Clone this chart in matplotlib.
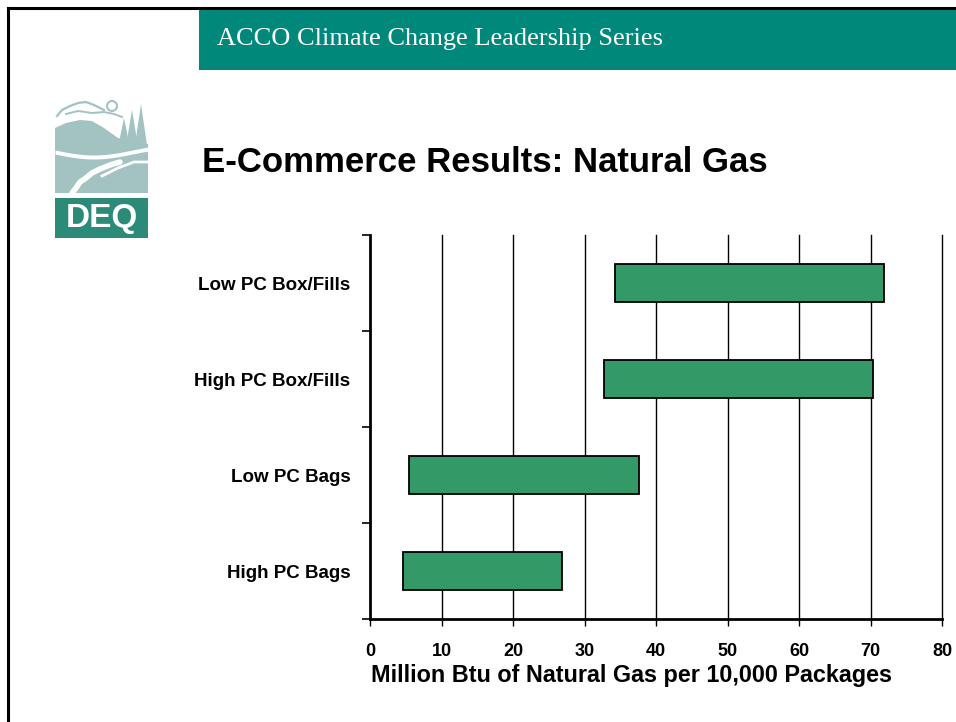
import matplotlib
matplotlib.use("Agg")
import matplotlib.pyplot as plt
from matplotlib.patches import Rectangle, Polygon, Circle
from matplotlib.lines import Line2D
import numpy as np

# data (bottom to top, as drawn)
categories = ['High PC Bags', 'Low PC Bags', 'High PC Box/Fills', 'Low PC Box/Fills']
range_low = [4.6, 5.5, 32.7, 34.2]
range_high = [26.8, 37.6, 70.3, 71.9]
x_ticks = [0, 10, 20, 30, 40, 50, 60, 70, 80]

W, H = 956, 722
fig = plt.figure(figsize=(W / 100, H / 100), dpi=100)
fig.patch.set_facecolor('white')

def fx(px):
    return px / W

def fy(py):
    return 1 - py / H

# slide frame (only top and left edges show)
fig.add_artist(Line2D([fx(8), 1], [fy(8), fy(8)], color='black', lw=2.2))
fig.add_artist(Line2D([fx(8), fx(8)], [fy(8), 0], color='black', lw=2.2))

# header band
fig.add_artist(Rectangle((fx(199), fy(70)), 1 - fx(199), fy(9) - fy(70),
                         transform=fig.transFigure, facecolor='#00897b', edgecolor='none'))
fig.text(fx(217), fy(39), 'ACCO Climate Change Leadership Series', color='white',
         fontsize=19, family='Liberation Serif', va='center', ha='left')

# slide title
fig.text(fx(202), fy(163), 'E-Commerce Results: Natural Gas', fontsize=25,
         family='Liberation Sans', fontweight='bold', va='center', ha='left')

# DEQ logo, rough sketch in pixel coordinates
lg = fig.add_axes([fx(55), fy(240), fx(93), fy(98) - fy(240)])
lg.set_xlim(55, 148)
lg.set_ylim(240, 98)
lg.axis('off')
pale = '#a2c3c2'
lg.add_patch(Polygon([(55, 128), (66, 123), (80, 120), (92, 121), (104, 128), (118, 138),
                      (148, 144), (148, 193), (55, 193)], closed=True, fc=pale, ec='none'))
for tx, top in [(124, 118), (132, 110), (141, 104)]:
    lg.add_patch(Polygon([(tx - 7, 152), (tx, top), (tx + 7, 152)], closed=True, fc=pale, ec='none'))
xs = np.linspace(55, 148, 50)
band_top = 150 + 5 * np.sin((xs - 55) / 93 * np.pi * 1.2)
lg.fill_between(xs, band_top, band_top + 4, color='white', lw=0)
lg.plot([120, 110, 100, 92, 86, 80, 76, 72], [162, 165, 169, 173, 178, 182, 188, 193],
        color='white', lw=4, solid_capstyle='round')
lg.plot([102, 118, 134, 148], [176, 168, 162, 162], color='white', lw=2)
lg.plot([57, 62, 70, 78, 86, 94, 104], [116, 110, 106, 103, 102, 105, 110], color=pale, lw=1.6)
lg.plot([66, 78, 92, 104, 114, 122], [114, 111, 113, 112, 114, 117], color=pale, lw=1.4)
lg.add_patch(Circle((112, 106), 5, fc='white', ec=pale, lw=1.5))
lg.add_patch(Rectangle((55, 198), 93, 40, fc='#2c8b78', ec='none'))
lg.text(101.5, 219, 'DEQ', color='white', fontsize=24, fontweight='bold',
        family='Liberation Sans', ha='center', va='center')

# chart
ax = fig.add_axes([fx(370), fy(619), fx(942) - fx(370), fy(235) - fy(619)])
y = np.arange(len(categories)) + 0.5
ax.barh(y, np.array(range_high) - np.array(range_low), left=range_low, height=0.4,
        color='#339966', edgecolor='black', linewidth=1.3, zorder=3)

ax.set_xlim(0, 80)
ax.set_ylim(0, 4)
ax.set_xticks(x_ticks)
ax.set_xticklabels([str(v) for v in x_ticks], fontsize=13, fontweight='bold',
                   family='Liberation Sans')
ax.set_yticks(np.arange(0, 5))
ax.set_yticklabels([])
ax.set_yticks(y, minor=True)
ax.set_yticklabels(categories, minor=True, fontsize=13.5, fontweight='bold',
                   family='Liberation Sans')
ax.tick_params(axis='y', which='minor', length=0, pad=14)
ax.tick_params(axis='y', which='major', length=6, width=1.2, direction='out')
ax.tick_params(axis='x', length=5, width=1, direction='out', pad=12)

for v in x_ticks[1:]:
    ax.axvline(v, color='black', lw=1, zorder=1, clip_on=False)
ax.spines['top'].set_visible(False)
ax.spines['right'].set_visible(False)
ax.spines['left'].set_linewidth(2)
ax.spines['bottom'].set_linewidth(2)

ax.set_xlabel('Million Btu of Natural Gas per 10,000 Packages', fontsize=16.8,
              fontweight='bold', family='Liberation Sans', labelpad=3)
ax.xaxis.set_label_coords(0.457, -0.118)

fig.savefig('out.png', dpi=100)
